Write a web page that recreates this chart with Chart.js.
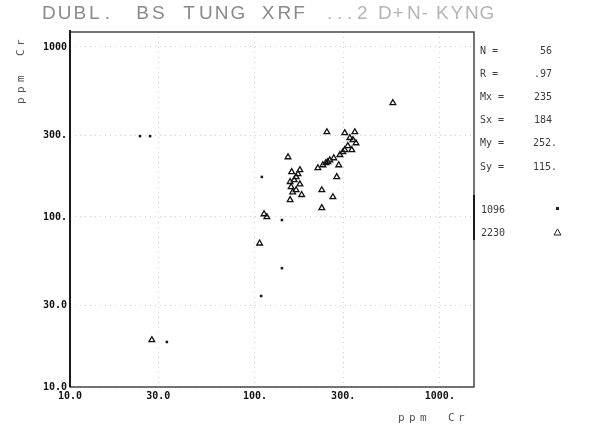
<!DOCTYPE html>
<html>
<head>
<meta charset="utf-8">
<script src="https://cdn.jsdelivr.net/npm/chart.js@4.4.1/dist/chart.umd.min.js"></script>
<style>
  html, body { margin: 0; padding: 0; background: #fff; }
  #plot { display: block; }
</style>
</head>
<body>
<canvas id="plot" width="589" height="448"></canvas>
<script>
// duplicate Cr readings, ppm (x = first run, y = second run)
const xTicks = [10, 30, 100, 300, 1000];
const xTickLabels = ["10.0", "30.0", "100.", "300.", "1000."];
const yTicks = [10, 30, 100, 300, 1000];
const yTickLabels = ["10.0", "30.0", "100.", "300.", "1000"];

// batch 1096 (small squares)
const b1096X = [109, 140, 140, 108, 33.4, 23.9, 27.1];
const b1096Y = [172, 96, 50, 34.3, 18.4, 299, 299];

// batch 2230 (open triangles)
const b2230X = [557, 245, 347, 326, 352, 334, 306, 288, 267, 248, 233, 219, 151, 277, 158, 171, 163, 175, 157, 167,
  179, 230, 264, 155, 230, 116, 112, 106, 27.7, 254, 242, 299, 318, 339, 306, 167, 155, 175, 284, 160];
const b2230Y = [469, 316, 316, 292, 272, 248, 248, 232, 222, 211, 202, 194, 225, 172, 184, 179, 165, 156, 150, 144,
  135, 144, 131, 126, 113, 100, 104, 70, 18.9, 216, 208, 241, 262, 284, 312, 172, 161, 189, 202, 140];

const statNames = ["N =", "R =", "Mx =", "Sx =", "My =", "Sy ="];
const statValues = ["56", ".97", "235", "184", "252.", "115."];
const legendNames = ["1096", "2230"];

const pts = (xs, ys) => xs.map((x, i) => ({ x: x, y: ys[i] }));
const MONO = "'DejaVu Sans Mono', monospace";

// frame, headings and the stats block on the right
const decor = {
  id: "decor",
  afterDraw(chart) {
    const ctx = chart.ctx;
    const a = chart.chartArea;
    ctx.save();

    // box
    ctx.strokeStyle = "#2a2a2a";
    ctx.lineWidth = 1.3;
    ctx.strokeRect(a.left, a.top, a.right - a.left, a.bottom - a.top);
    ctx.lineWidth = 1.8;
    ctx.strokeStyle = "#111";
    ctx.beginPath();
    ctx.moveTo(a.left, a.top - 2);
    ctx.lineTo(a.left, a.bottom);
    ctx.moveTo(a.right, 195);
    ctx.lineTo(a.right, 240);
    ctx.stroke();

    const drawSpaced = (s, x0, pitch, y) => {
      for (let i = 0; i < s.length; i++) ctx.fillText(s[i], x0 + i * pitch, y);
    };

    // title, spaced out like plotter lettering
    ctx.fillStyle = "#8a8a8a";
    ctx.font = "19px 'Liberation Sans', sans-serif";
    ctx.textBaseline = "alphabetic";
    drawSpaced("DUBL. BS TUNG XRF", 42, 15.7, 19);
    ctx.fillStyle = "#b4b4b4";
    drawSpaced("...2", 327, 10, 19);
    drawSpaced("D+N-KYNG", 378, 14.5, 19);

    // axis titles
    ctx.fillStyle = "#555";
    ctx.font = "11px " + MONO;
    ctx.textAlign = "left";
    ctx.textBaseline = "middle";
    drawSpaced("ppm", 398, 11, 418);
    drawSpaced("Cr", 448, 10, 418);
    ctx.save();
    ctx.translate(21, 0);
    ctx.rotate(-Math.PI / 2);
    drawSpaced("ppm", -104, 11, 0);
    drawSpaced("Cr", -56, 10, 0);
    ctx.restore();

    // regression stats
    ctx.fillStyle = "#3c3c3c";
    ctx.font = "10px " + MONO;
    statNames.forEach((s, i) => {
      const y = 51 + i * 23.2;
      ctx.textAlign = "left";
      ctx.fillText(s, 480, y);
      ctx.textAlign = "right";
      const v = statValues[i];
      ctx.fillText(v, v.endsWith(".") ? 557 : 552, y);
    });

    // key
    ctx.textAlign = "left";
    legendNames.forEach((s, i) => {
      ctx.fillText(s, 481, 210 + i * 23);
    });
    ctx.fillStyle = "#222";
    ctx.fillRect(556, 207, 3, 3);
    ctx.strokeStyle = "#222";
    ctx.lineWidth = 1;
    ctx.beginPath();
    ctx.moveTo(557.5, 229);
    ctx.lineTo(561, 235);
    ctx.lineTo(554, 235);
    ctx.closePath();
    ctx.stroke();

    ctx.restore();
  }
};

new Chart(document.getElementById("plot"), {
  type: "scatter",
  data: {
    datasets: [
      {
        label: legendNames[0],
        data: pts(b1096X, b1096Y),
        pointStyle: "rect",
        pointRadius: 1.8,
        backgroundColor: "#1a1a1a",
        borderColor: "#1a1a1a",
        borderWidth: 0
      },
      {
        label: legendNames[1],
        data: pts(b2230X, b2230Y),
        pointStyle: "triangle",
        pointRadius: 3.3,
        backgroundColor: "rgba(0,0,0,0)",
        borderColor: "#111",
        borderWidth: 1.3
      }
    ]
  },
  options: {
    responsive: false,
    animation: false,
    devicePixelRatio: 1,
    layout: { padding: { left: 30, right: 115, top: 32, bottom: 41 } },
    plugins: {
      legend: { display: false },
      tooltip: { enabled: false }
    },
    scales: {
      x: {
        type: "logarithmic",
        min: 10,
        max: 1530,
        afterBuildTicks: s => { s.ticks = xTicks.map(v => ({ value: v })); },
        afterFit: s => { s.height = 20; },
        ticks: {
          autoSkip: false,
          maxRotation: 0,
          padding: 3,
          color: "#111",
          font: { family: MONO, size: 10, weight: "bold" },
          callback: (v, i) => xTickLabels[i]
        },
        grid: { color: "#cfcfcf", lineWidth: 1, drawTicks: false },
        border: { display: false, dash: [1, 4] }
      },
      y: {
        type: "logarithmic",
        min: 10,
        max: 1225,
        afterBuildTicks: s => { s.ticks = yTicks.map(v => ({ value: v })); },
        afterFit: s => { s.width = 40; },
        ticks: {
          autoSkip: false,
          padding: 3,
          color: "#111",
          font: { family: MONO, size: 10, weight: "bold" },
          callback: (v, i) => yTickLabels[i]
        },
        grid: { color: "#cfcfcf", lineWidth: 1, drawTicks: false },
        border: { display: false, dash: [1, 4] }
      }
    }
  },
  plugins: [decor]
});
</script>
</body>
</html>
